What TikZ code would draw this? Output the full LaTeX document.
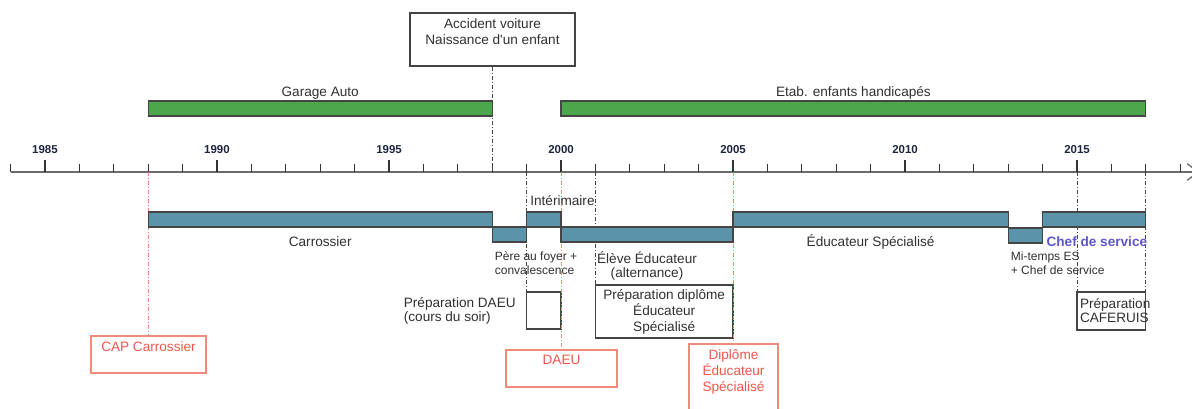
\documentclass[tikz,border=0pt]{standalone}
\usepackage{fontspec}
\setmainfont{Liberation Sans}
\usetikzlibrary{arrows.meta, fit, positioning}
\definecolor{jobblue}{HTML}{5A93AA}
\definecolor{firmgreen}{HTML}{4CA64C}
\definecolor{edgegray}{HTML}{454545}
\definecolor{axisgray}{HTML}{6A6A6A}
\definecolor{tickgray}{HTML}{333333}
\definecolor{inkgray}{HTML}{303030}
\definecolor{yearink}{HTML}{1C2540}
\definecolor{diplomared}{HTML}{F28A7A}
\definecolor{diplomaink}{HTML}{F0564C}
\definecolor{chefpurple}{HTML}{5F55CF}
\tikzset{
	timeline/.is family,
	timeline/.cd,
	axis/.style = {
		draw = axisgray,
		line width = 1.5pt,
		-{Straight Barb[length = 8pt, width = 12.5pt, line width = 1pt]},
	},
	tick/.style = {
		draw = tickgray,
		line width = 0.9pt,
	},
	year/.style = {
		inner sep = 0pt,
		text = yearink,
		font = \fontsize{8.6}{10}\selectfont\bfseries,
	},
	firm/.style = {
		draw = edgegray,
		line width = 0.8pt,
		fill = firmgreen,
		inner sep = 0pt,
	},
	job/.style = {
		draw = edgegray,
		line width = 0.8pt,
		fill = jobblue,
		inner sep = 0pt,
	},
	event/.style = {
		draw = edgegray,
		line width = 0.9pt,
		inner sep = 0pt,
	},
	diploma/.style = {
		draw = diplomared,
		line width = 1.1pt,
		inner sep = 0pt,
	},
	caption/.style = {
		inner sep = 0pt,
		text = inkgray,
		font = \fontsize{10.2}{10.5}\selectfont,
	},
	small caption/.style = {
		timeline/caption,
		font = \fontsize{9}{10.5}\selectfont,
	},
	boxtext/.style = {
		timeline/caption,
		align = center,
		font = \fontsize{10.2}{12}\selectfont,
	},
	diplomatext/.style = {
		timeline/boxtext,
		text = diplomaink,
	},
	chef/.style = {
		timeline/caption,
		text = chefpurple,
		font = \fontsize{10.2}{12}\selectfont\bfseries,
	},
	milestone/.style = {
		draw = edgegray,
		line width = 0.75pt,
		dash pattern = on 3pt off 1.5pt on 0.75pt off 1.5pt,
	},
	diploma line/.style = {
		timeline/milestone,
		draw = diplomared,
	},
}

\begin{document}
\begin{tikzpicture}[
		x = 0.75pt, y = -0.75pt,
		font = \fontsize{10.2}{12}\selectfont,
	]
	\useasboundingbox (0, 0) rectangle (1192, 408);
	\def\ymin{1984}
	\def\ymax{2018}
	\def\axisy{172}
	% one coordinate per year on the axis
	\foreach \y in {\ymin, ..., \ymax}{
		\coordinate (Y\y) at ({45 + (\y - 1985) * 34.4}, \axisy);
	}
	% employers
	\foreach \id/\yfrom/\yto in {garage/1988/1998, etab/2000/2017}{
		\node[timeline/firm, fit = {(Y\yfrom |- 0, 101) (Y\yto |- 0, 116)}] (\id) {};
	}
	\node[timeline/caption, above = 3.2pt of garage, anchor = base] (garage-text) {Garage Auto};
	\node[timeline/caption, above = 3.2pt of etab, anchor = base] (etab-text) {Etab. enfants handicapés};
	% axis
	\coordinate (axis end) at (1199, \axisy);
	\draw[timeline/axis] (Y\ymin) -- (axis end);
	\foreach \y [evaluate = \y as \r using {int(mod(\y, 5))}] in {\ymin, ..., \ymax}{
		\ifnum\r=0
			\draw[timeline/tick] (Y\y) -- ++(0, -12);
			\node[timeline/year, above = 14pt of Y\y, anchor = base] (year-\y) {\y};
		\else
			\draw[timeline/tick] (Y\y) -- ++(0, -8);
		\fi
	}
	% events and trainings
	\node[timeline/event, fit = {(410, 13) (575, 66)},
		label = {[timeline/boxtext, anchor = north, yshift = -4.5pt]north:{Accident voiture\\Naissance d\textquotesingle un enfant}}] (accident) {};
	\node[timeline/event, fit = {(Y1999 |- 0, 292) (Y2000 |- 0, 329)}] (daeuprep) {};
	\node[timeline/caption, left = 7.5pt of daeuprep, align = left] (daeuprep-text) {Préparation DAEU\\(cours du soir)};
	\node[timeline/event, fit = {(Y2001 |- 0, 285) (Y2005 |- 0, 338)}] (prepES) {};
	\node[timeline/boxtext] (prepES-text) at (prepES) {Préparation diplôme\\Éducateur\\Spécialisé};
	\node[timeline/event, fit = {(Y2015 |- 0, 292) (Y2017 |- 0, 330)},
		label = {[timeline/caption, anchor = west, align = left, xshift = 2.5pt]west:{Préparation\\CAFERUIS}}] (caferuis) {};
	% diplomas
	\node[timeline/diploma, fit = {(91, 336) (206, 373)},
		label = {[timeline/diplomatext, anchor = north, yshift = -4.5pt]north:CAP Carrossier}] (cap) {};
	\node[timeline/diploma, fit = {(506, 350) (617, 387)},
		label = {[timeline/diplomatext, anchor = north, yshift = -4.5pt]north:DAEU}] (daeu) {};
	\node[timeline/diploma, fit = {(689, 344) (778, 420)},
		label = {[timeline/diplomatext, anchor = north, yshift = -4.5pt]north:{Diplôme\\Éducateur\\Spécialisé}}] (diplES) {};
	% dates
	\draw[timeline/milestone] (Y1998 |- accident.south) -- (Y1998);
	\foreach \y/\target in {1999/daeuprep, 2001/prepES, 2015/caferuis, 2017/caferuis}{
		\draw[timeline/milestone] (Y\y) -- (Y\y |- \target.north);
	}
	\foreach \y/\target in {1988/cap, 2000/daeu, 2005/diplES}{
		\draw[timeline/diploma line] (Y\y) -- (Y\y |- \target.north);
	}
	% jobs
	\foreach \id/\yfrom/\yto/\row in {
		carrossier/1988/1998/212,
		pere/1998/1999/227,
		interim/1999/2000/212,
		eleve/2000/2005/227,
		educ/2005/2013/212,
		mitemps/2013/2014/228,
		chef/2014/2017/212%
	}{
		\node[timeline/job, fit = {(Y\yfrom |- 0, \row) (Y\yto |- 0, \row + 15)}] (\id) {};
	}
	\node[timeline/caption, below = 14pt of carrossier, anchor = base] (carrossier-text) {Carrossier};
	\node[timeline/small caption, below right = 6.4pt and 2.2pt of pere.south west, align = left] (pere-text) {Père au foyer +\\convalescence};
	\node[timeline/caption, above right = 4.5pt and 3pt of interim.north west, anchor = base west] (interim-text) {Intérimaire};
	\node[timeline/caption, below = 6.75pt of eleve, align = center] (eleve-text) {Élève Éducateur\\(alternance)};
	\node[timeline/caption, below = 14pt of educ, anchor = base] (educ-text) {Éducateur Spécialisé};
	\node[timeline/small caption, below right = 6pt and 2.2pt of mitemps.south west, align = left] (mitemps-text) {Mi-temps ES\\+ Chef de service};
	\node[timeline/chef, below = 14pt of chef, anchor = base, xshift = 2pt] (chef-text) {Chef de service};
\end{tikzpicture}
\end{document}
